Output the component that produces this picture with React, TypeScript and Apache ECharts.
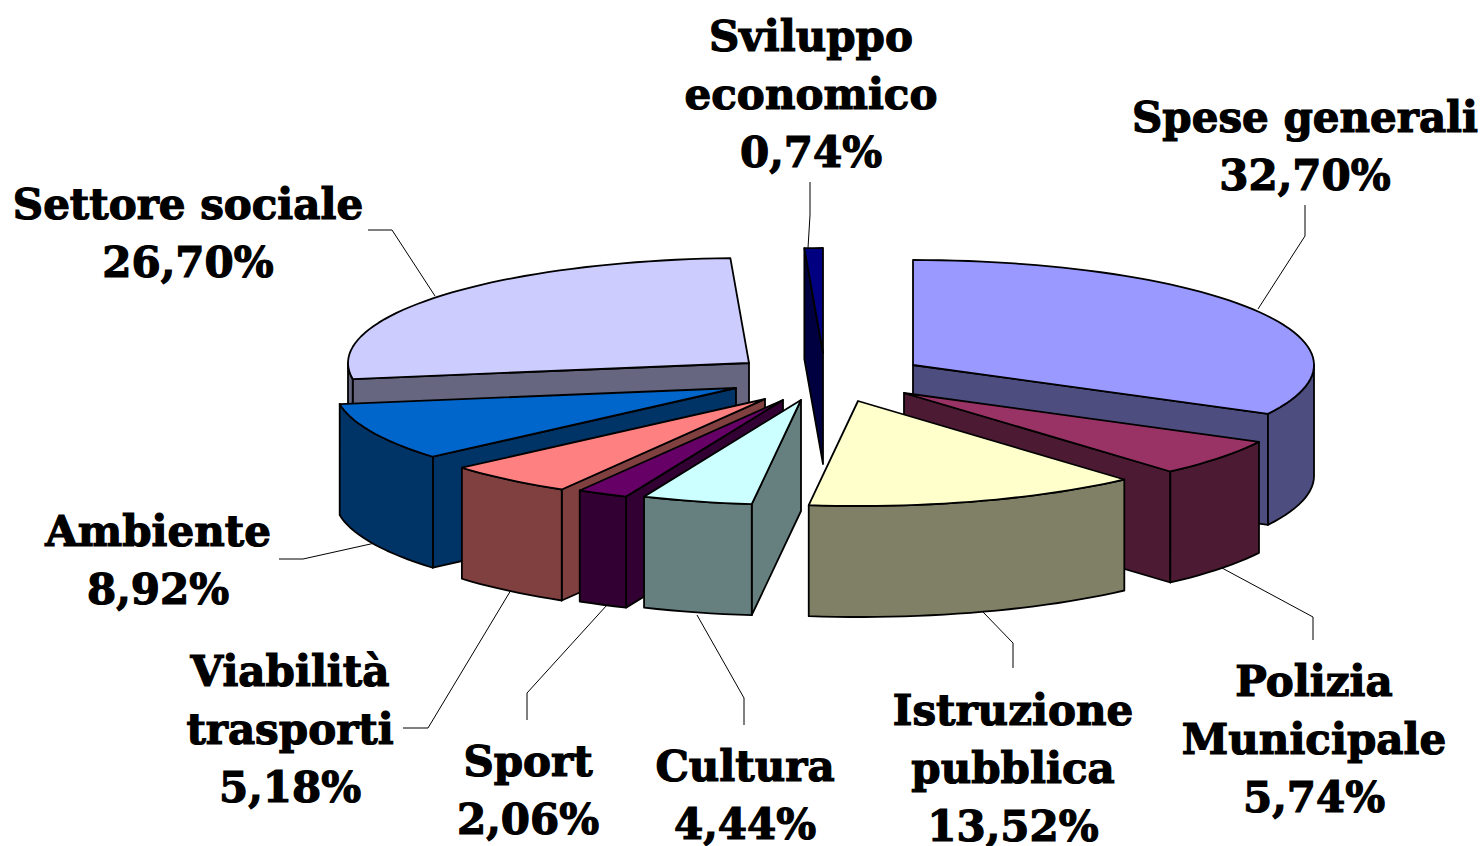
import React, { useEffect, useRef } from "react";
import * as echarts from "echarts";

// ---- data, clockwise from 12 o'clock ----
const categories = [
  "Spese generali",
  "Polizia\nMunicipale",
  "Istruzione\npubblica",
  "Cultura",
  "Sport",
  "Viabilità\ntrasporti",
  "Ambiente",
  "Settore sociale",
  "Sviluppo\neconomico",
];
const shares = [32.7, 5.74, 13.52, 4.44, 2.06, 5.18, 8.92, 26.7, 0.74];

// ---- styles ----
const topColors = ["#9999FF", "#993366", "#FFFFCC", "#CCFFFF", "#660066", "#FF8080", "#0066CC", "#CCCCFF", "#000080"];
const sideColors = ["#4D4D80", "#4D1A33", "#808066", "#668080", "#330033", "#804040", "#003366", "#666680", "#000040"];

// ---- layout ----
const RX = 401;
const RY = 105;
const DEPTH = 111;
// where each exploded slice's apex lands on the page
const apexes = [[913, 365], [904, 393], [858, 401], [801, 400], [783, 400], [765, 399], [736, 388], [749, 363], [823, 353]];
// paint order, back to front
const paintRank = [1, 4, 8, 7, 6, 5, 3, 0, 2];
const labelCentres = [[1305, 146], [1314, 739], [1013, 768], [745, 795], [528, 790], [290, 729], [158, 560], [188, 233], [811, 94]];
const leaders = [
  [[1258, 309], [1305, 236], [1305, 205]],
  [[1222, 568], [1313, 617], [1313, 640]],
  [[983, 612], [1013, 643], [1013, 668]],
  [[697, 615], [744, 698], [744, 725]],
  [[607, 605], [527, 693], [527, 720]],
  [[511, 590], [428, 728], [403, 728]],
  [[375, 543], [303, 559], [279, 559]],
  [[435, 296], [392, 230], [368, 230]],
  [[808, 248], [810, 215], [810, 182]],
];
const FONT = 'bold 42px "DejaVu Serif"';
const LINE_HEIGHT = 58;

const formatShare = (v: number) => v.toFixed(2).replace(".", ",") + "%";
const total = shares.reduce((a, b) => a + b, 0);

function arcPoints(cx: number, cy: number, from: number, to: number) {
  const steps = Math.max(2, Math.ceil((to - from) / 2));
  const pts: number[][] = [];
  for (let i = 0; i <= steps; i++) {
    const t = ((from + ((to - from) * i) / steps) * Math.PI) / 180;
    pts.push([cx + RX * Math.sin(t), cy - RY * Math.cos(t)]);
  }
  return pts;
}

function renderSlice(params: any, api: any) {
  const i = params.dataIndex;
  const value = api.value(0);
  let before = 0;
  for (let k = 0; k < i; k++) before += shares[k];
  const a = (before / total) * 360;
  const b = a + (value / total) * 360;
  const [cx, cy] = apexes[i];
  const z = paintRank[i] * 10 + 10;
  const lineStyle = { stroke: "#000", lineWidth: 1.8, lineJoin: "round" };
  const down = (p: number[]) => [p[0], p[1] + DEPTH];
  const children: any[] = [];

  const face = (deg: number) => {
    const o = arcPoints(cx, cy, deg, deg)[0];
    const apex = [cx, cy];
    children.push({
      type: "polygon",
      z2: z,
      shape: { points: [apex, o, down(o), down(apex)] },
      style: { fill: sideColors[i], ...lineStyle },
    });
  };
  // Only radial faces turned towards the viewer are drawn.
  if (Math.sin((a * Math.PI) / 180) < 0) face(a);
  if (Math.sin((b * Math.PI) / 180) > 0) face(b);

  // Outer wall: the part of the rim on the front half.
  const wa = Math.max(a, 90);
  const wb = Math.min(b, 270);
  if (wb > wa) {
    const rim = arcPoints(cx, cy, wa, wb);
    children.push({
      type: "polygon",
      z2: z + 1,
      shape: { points: [...rim, ...rim.slice().reverse().map(down)] },
      style: { fill: sideColors[i], ...lineStyle },
    });
  }

  children.push({
    type: "polygon",
    z2: z + 2,
    shape: { points: [[cx, cy], ...arcPoints(cx, cy, a, b)] },
    style: { fill: topColors[i], ...lineStyle },
  });

  children.push({
    type: "polyline",
    z2: 1,
    shape: { points: leaders[i] },
    style: { fill: "none", stroke: "#000", lineWidth: 1 },
  });
  children.push({
    type: "text",
    z2: 200,
    x: labelCentres[i][0],
    y: labelCentres[i][1],
    style: {
      text: categories[i] + "\n" + formatShare(value),
      font: FONT,
      fill: "#000",
      stroke: "#000",
      lineWidth: 1.2,
      align: "center",
      verticalAlign: "middle",
      lineHeight: LINE_HEIGHT,
    },
  });
  return { type: "group", children };
}

export default function App() {
  const ref = useRef<HTMLDivElement>(null);
  useEffect(() => {
    const chart = echarts.init(ref.current!, undefined, { renderer: "svg" });
    chart.setOption({
      animation: false,
      backgroundColor: "#fff",
      series: [
        {
          type: "custom",
          coordinateSystem: "none",
          silent: true,
          data: shares.map((v) => [v]),
          renderItem: renderSlice,
        },
      ],
    });
    return () => chart.dispose();
  }, []);
  return <div ref={ref} style={{ position: "absolute", left: 0, top: 0, width: 1481, height: 846 }} />;
}
